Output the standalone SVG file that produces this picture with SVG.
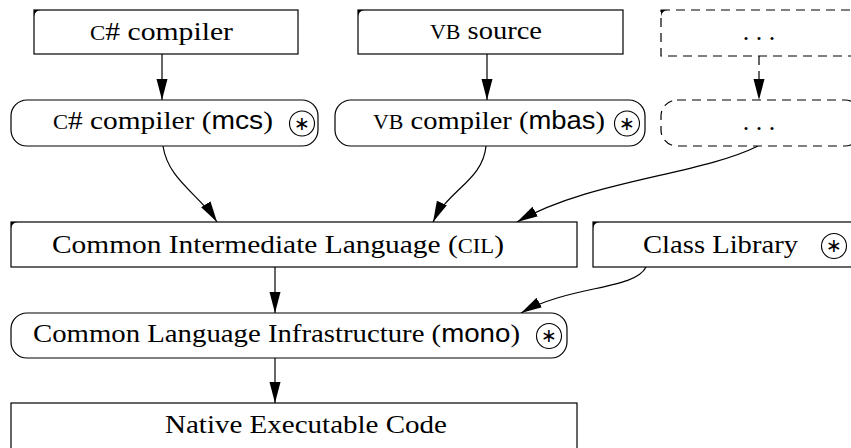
<svg xmlns="http://www.w3.org/2000/svg" width="851" height="448" viewBox="0 0 851 448">
<style>
.box{fill:#fff;stroke:#000;stroke-width:1.2}
.dash{fill:#fff;stroke:#000;stroke-width:1.2;stroke-dasharray:9 6}
.corner{fill:#000}
.t{font-family:"Liberation Serif","DejaVu Serif",serif;font-size:26px;fill:#000;text-anchor:middle}
.sc{font-size:20px}
.sf{font-family:"Liberation Sans","DejaVu Sans",sans-serif;font-size:25px}
.circ{fill:none;stroke:#000;stroke-width:1.1}
.star{font-family:"DejaVu Sans",sans-serif;font-size:19px;text-anchor:middle;dominant-baseline:central}
.edge{fill:none;stroke:#000;stroke-width:1.2}
.edged{fill:none;stroke:#000;stroke-width:1.2;stroke-dasharray:9 6}
</style>
<defs>
<marker id="ah" markerUnits="userSpaceOnUse" markerWidth="22" markerHeight="12" refX="21" refY="6" orient="auto">
<path d="M0,0.5 L21,6 L0,11.5 z" fill="#000"/>
</marker>
</defs>

<g id="edges">
<path class="edge" d="M162,54 L162,100" marker-end="url(#ah)"/>
<path class="edge" d="M487,54 L487,100" marker-end="url(#ah)"/>
<path class="edged" d="M759,56 L759,100" marker-end="url(#ah)"/>
<path class="edge" d="M163,146 C168,180 200,195 217,222" marker-end="url(#ah)"/>
<path class="edge" d="M486,146 C483,180 448,190 433,222" marker-end="url(#ah)"/>
<path class="edge" d="M758,146 C700,175 590,180 517,222" marker-end="url(#ah)"/>
<path class="edge" d="M275,267 L275,313" marker-end="url(#ah)"/>
<path class="edge" d="M646,267 C635,290 570,285 521,313" marker-end="url(#ah)"/>
<path class="edge" d="M275,358 L275,403" marker-end="url(#ah)"/>
</g>

<g id="cs_source">
<rect class="box" x="34" y="10" width="264" height="44"/>
<path class="corner" d="M34,10 h7 a7,7 0 0 0 -7,7 z"/>
<text class="t" x="161.5" y="40" textLength="143" lengthAdjust="spacingAndGlyphs"><tspan class="sc">C</tspan># compiler</text>
</g>

<g id="vb_source">
<rect class="box" x="358" y="10" width="265" height="44"/>
<path class="corner" d="M358,10 h7 a7,7 0 0 0 -7,7 z"/>
<text class="t" x="486" y="39" textLength="112" lengthAdjust="spacingAndGlyphs"><tspan class="sc">VB</tspan> source</text>
</g>

<g id="other_source">
<rect class="dash" x="661" y="10" width="210" height="46"/>
<path class="corner" d="M661,10 h7 a7,7 0 0 0 -7,7 z"/>
<text class="t" x="759" y="40">. . .</text>
</g>

<g id="mcs">
<rect class="box" x="11" y="100" width="307" height="46" rx="16" ry="16"/>
<text class="t" x="163" y="129" textLength="220" lengthAdjust="spacingAndGlyphs"><tspan class="sc">C</tspan># compiler (<tspan class="sf">mcs</tspan>)</text>
<circle class="circ" cx="302" cy="123.5" r="12.5"/>
<text class="star" x="302" y="122.5">∗</text>
</g>

<g id="mbas">
<rect class="box" x="335" y="100" width="310" height="46" rx="16" ry="16"/>
<text class="t" x="489" y="129" textLength="232" lengthAdjust="spacingAndGlyphs"><tspan class="sc">VB</tspan> compiler (<tspan class="sf">mbas</tspan>)</text>
<circle class="circ" cx="627" cy="123.5" r="12.5"/>
<text class="star" x="627" y="122.5">∗</text>
</g>

<g id="other_compiler">
<rect class="dash" x="661" y="100" width="200" height="46" rx="16" ry="16"/>
<text class="t" x="759" y="130">. . .</text>
</g>

<g id="cil">
<rect class="box" x="11" y="222" width="566" height="45"/>
<path class="corner" d="M11,222 h7 a7,7 0 0 0 -7,7 z"/>
<text class="t" x="278" y="253" textLength="452" lengthAdjust="spacingAndGlyphs">Common Intermediate Language (<tspan class="sc">CIL</tspan>)</text>
</g>

<g id="class_library">
<rect class="box" x="593" y="222" width="280" height="45"/>
<path class="corner" d="M593,222 h7 a7,7 0 0 0 -7,7 z"/>
<text class="t" x="720.5" y="253" textLength="155" lengthAdjust="spacingAndGlyphs">Class Library</text>
<circle class="circ" cx="834" cy="246" r="12.5"/>
<text class="star" x="834" y="245">∗</text>
</g>

<g id="cli">
<rect class="box" x="11" y="313" width="556" height="45" rx="16" ry="16"/>
<text class="t" x="276.5" y="342" textLength="487" lengthAdjust="spacingAndGlyphs">Common Language Infrastructure (<tspan class="sf">mono</tspan>)</text>
<circle class="circ" cx="549" cy="336" r="12.5"/>
<text class="star" x="549" y="335">∗</text>
</g>

<g id="native">
<rect class="box" x="11" y="403" width="566" height="60"/>
<text class="t" x="306" y="433" textLength="282" lengthAdjust="spacingAndGlyphs">Native Executable Code</text>
</g>
</svg>
